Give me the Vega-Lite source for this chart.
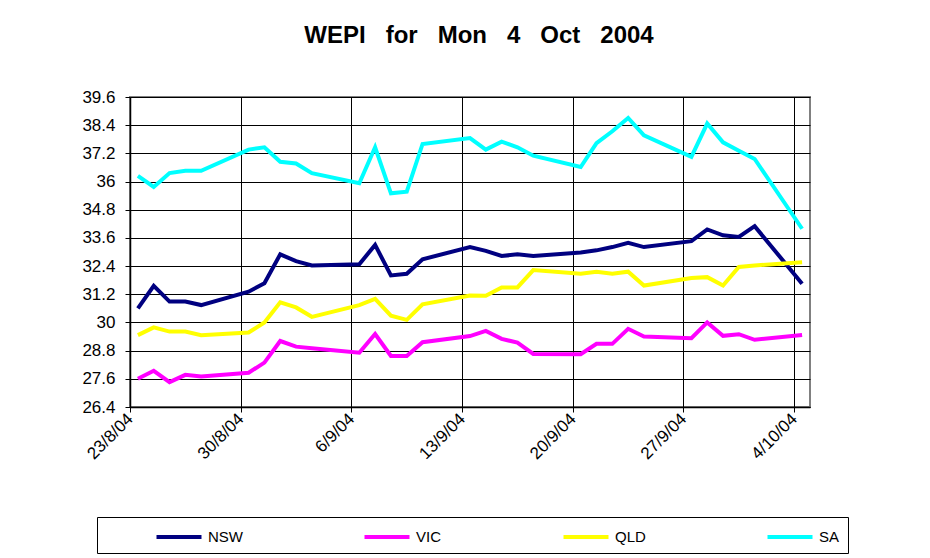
{
  "$schema": "https://vega.github.io/schema/vega-lite/v6.json",
  "autosize": {"type": "none"},
  "padding": {"left": 130, "top": 97, "right": 120, "bottom": 151},
  "width": 680,
  "height": 310,
  "background": "white",
  "title": {
    "text": "WEPI\u00a0\u00a0\u00a0for\u00a0\u00a0\u00a0Mon\u00a0\u00a0\u00a04\u00a0\u00a0\u00a0Oct\u00a0\u00a0\u00a02004",
    "font": "Liberation Sans",
    "fontSize": 24,
    "fontWeight": "bold",
    "color": "black",
    "anchor": "middle",
    "dx": 9,
    "offset": 40
  },
  "config": {
    "font": "Liberation Sans",
    "view": {"stroke": "#808080", "strokeWidth": 2},
    "axis": {
      "gridColor": "black",
      "gridOpacity": 1,
      "gridWidth": 1,
      "domainColor": "black",
      "domainWidth": 1.5,
      "tickColor": "black",
      "tickSize": 5,
      "labelColor": "black",
      "labelFont": "Liberation Sans"
    }
  },
  "data": {
    "values": [
      {"date": "2004-08-23T12:00:00", "state": "NSW", "value": 30.6},
      {"date": "2004-08-24T12:00:00", "state": "NSW", "value": 31.56},
      {"date": "2004-08-25T12:00:00", "state": "NSW", "value": 30.89},
      {"date": "2004-08-26T12:00:00", "state": "NSW", "value": 30.89},
      {"date": "2004-08-27T12:00:00", "state": "NSW", "value": 30.74},
      {"date": "2004-08-30T12:00:00", "state": "NSW", "value": 31.31},
      {"date": "2004-08-31T12:00:00", "state": "NSW", "value": 31.67},
      {"date": "2004-09-01T12:00:00", "state": "NSW", "value": 32.9},
      {"date": "2004-09-02T12:00:00", "state": "NSW", "value": 32.61},
      {"date": "2004-09-03T12:00:00", "state": "NSW", "value": 32.43},
      {"date": "2004-09-06T12:00:00", "state": "NSW", "value": 32.48},
      {"date": "2004-09-07T12:00:00", "state": "NSW", "value": 33.3},
      {"date": "2004-09-08T12:00:00", "state": "NSW", "value": 32.0},
      {"date": "2004-09-09T12:00:00", "state": "NSW", "value": 32.07},
      {"date": "2004-09-10T12:00:00", "state": "NSW", "value": 32.69},
      {"date": "2004-09-13T12:00:00", "state": "NSW", "value": 33.21},
      {"date": "2004-09-14T12:00:00", "state": "NSW", "value": 33.05},
      {"date": "2004-09-15T12:00:00", "state": "NSW", "value": 32.83},
      {"date": "2004-09-16T12:00:00", "state": "NSW", "value": 32.9},
      {"date": "2004-09-17T12:00:00", "state": "NSW", "value": 32.83},
      {"date": "2004-09-20T12:00:00", "state": "NSW", "value": 32.98},
      {"date": "2004-09-21T12:00:00", "state": "NSW", "value": 33.07},
      {"date": "2004-09-22T12:00:00", "state": "NSW", "value": 33.21},
      {"date": "2004-09-23T12:00:00", "state": "NSW", "value": 33.39},
      {"date": "2004-09-24T12:00:00", "state": "NSW", "value": 33.21},
      {"date": "2004-09-27T12:00:00", "state": "NSW", "value": 33.46},
      {"date": "2004-09-28T12:00:00", "state": "NSW", "value": 33.96},
      {"date": "2004-09-29T12:00:00", "state": "NSW", "value": 33.71},
      {"date": "2004-09-30T12:00:00", "state": "NSW", "value": 33.64},
      {"date": "2004-10-01T12:00:00", "state": "NSW", "value": 34.1},
      {"date": "2004-10-04T12:00:00", "state": "NSW", "value": 31.65},
      {"date": "2004-08-23T12:00:00", "state": "VIC", "value": 27.6},
      {"date": "2004-08-24T12:00:00", "state": "VIC", "value": 27.94},
      {"date": "2004-08-25T12:00:00", "state": "VIC", "value": 27.46},
      {"date": "2004-08-26T12:00:00", "state": "VIC", "value": 27.77},
      {"date": "2004-08-27T12:00:00", "state": "VIC", "value": 27.7},
      {"date": "2004-08-30T12:00:00", "state": "VIC", "value": 27.86},
      {"date": "2004-08-31T12:00:00", "state": "VIC", "value": 28.29},
      {"date": "2004-09-01T12:00:00", "state": "VIC", "value": 29.21},
      {"date": "2004-09-02T12:00:00", "state": "VIC", "value": 28.97},
      {"date": "2004-09-03T12:00:00", "state": "VIC", "value": 28.9},
      {"date": "2004-09-06T12:00:00", "state": "VIC", "value": 28.71},
      {"date": "2004-09-07T12:00:00", "state": "VIC", "value": 29.51},
      {"date": "2004-09-08T12:00:00", "state": "VIC", "value": 28.57},
      {"date": "2004-09-09T12:00:00", "state": "VIC", "value": 28.57},
      {"date": "2004-09-10T12:00:00", "state": "VIC", "value": 29.16},
      {"date": "2004-09-13T12:00:00", "state": "VIC", "value": 29.42},
      {"date": "2004-09-14T12:00:00", "state": "VIC", "value": 29.64},
      {"date": "2004-09-15T12:00:00", "state": "VIC", "value": 29.3},
      {"date": "2004-09-16T12:00:00", "state": "VIC", "value": 29.14},
      {"date": "2004-09-17T12:00:00", "state": "VIC", "value": 28.66},
      {"date": "2004-09-20T12:00:00", "state": "VIC", "value": 28.65},
      {"date": "2004-09-21T12:00:00", "state": "VIC", "value": 29.09},
      {"date": "2004-09-22T12:00:00", "state": "VIC", "value": 29.09},
      {"date": "2004-09-23T12:00:00", "state": "VIC", "value": 29.73},
      {"date": "2004-09-24T12:00:00", "state": "VIC", "value": 29.4},
      {"date": "2004-09-27T12:00:00", "state": "VIC", "value": 29.33},
      {"date": "2004-09-28T12:00:00", "state": "VIC", "value": 30.0},
      {"date": "2004-09-29T12:00:00", "state": "VIC", "value": 29.43},
      {"date": "2004-09-30T12:00:00", "state": "VIC", "value": 29.5},
      {"date": "2004-10-01T12:00:00", "state": "VIC", "value": 29.26},
      {"date": "2004-10-04T12:00:00", "state": "VIC", "value": 29.47},
      {"date": "2004-08-23T12:00:00", "state": "QLD", "value": 29.46},
      {"date": "2004-08-24T12:00:00", "state": "QLD", "value": 29.79},
      {"date": "2004-08-25T12:00:00", "state": "QLD", "value": 29.61},
      {"date": "2004-08-26T12:00:00", "state": "QLD", "value": 29.61},
      {"date": "2004-08-27T12:00:00", "state": "QLD", "value": 29.46},
      {"date": "2004-08-30T12:00:00", "state": "QLD", "value": 29.57},
      {"date": "2004-08-31T12:00:00", "state": "QLD", "value": 30.0},
      {"date": "2004-09-01T12:00:00", "state": "QLD", "value": 30.86},
      {"date": "2004-09-02T12:00:00", "state": "QLD", "value": 30.64},
      {"date": "2004-09-03T12:00:00", "state": "QLD", "value": 30.24},
      {"date": "2004-09-06T12:00:00", "state": "QLD", "value": 30.74},
      {"date": "2004-09-07T12:00:00", "state": "QLD", "value": 31.0},
      {"date": "2004-09-08T12:00:00", "state": "QLD", "value": 30.29},
      {"date": "2004-09-09T12:00:00", "state": "QLD", "value": 30.11},
      {"date": "2004-09-10T12:00:00", "state": "QLD", "value": 30.77},
      {"date": "2004-09-13T12:00:00", "state": "QLD", "value": 31.15},
      {"date": "2004-09-14T12:00:00", "state": "QLD", "value": 31.14},
      {"date": "2004-09-15T12:00:00", "state": "QLD", "value": 31.49},
      {"date": "2004-09-16T12:00:00", "state": "QLD", "value": 31.49},
      {"date": "2004-09-17T12:00:00", "state": "QLD", "value": 32.23},
      {"date": "2004-09-20T12:00:00", "state": "QLD", "value": 32.07},
      {"date": "2004-09-21T12:00:00", "state": "QLD", "value": 32.16},
      {"date": "2004-09-22T12:00:00", "state": "QLD", "value": 32.07},
      {"date": "2004-09-23T12:00:00", "state": "QLD", "value": 32.16},
      {"date": "2004-09-24T12:00:00", "state": "QLD", "value": 31.57},
      {"date": "2004-09-27T12:00:00", "state": "QLD", "value": 31.89},
      {"date": "2004-09-28T12:00:00", "state": "QLD", "value": 31.93},
      {"date": "2004-09-29T12:00:00", "state": "QLD", "value": 31.57},
      {"date": "2004-09-30T12:00:00", "state": "QLD", "value": 32.36},
      {"date": "2004-10-01T12:00:00", "state": "QLD", "value": 32.43},
      {"date": "2004-10-04T12:00:00", "state": "QLD", "value": 32.56},
      {"date": "2004-08-23T12:00:00", "state": "SA", "value": 36.24},
      {"date": "2004-08-24T12:00:00", "state": "SA", "value": 35.77},
      {"date": "2004-08-25T12:00:00", "state": "SA", "value": 36.36},
      {"date": "2004-08-26T12:00:00", "state": "SA", "value": 36.46},
      {"date": "2004-08-27T12:00:00", "state": "SA", "value": 36.46},
      {"date": "2004-08-30T12:00:00", "state": "SA", "value": 37.36},
      {"date": "2004-08-31T12:00:00", "state": "SA", "value": 37.46},
      {"date": "2004-09-01T12:00:00", "state": "SA", "value": 36.84},
      {"date": "2004-09-02T12:00:00", "state": "SA", "value": 36.77},
      {"date": "2004-09-03T12:00:00", "state": "SA", "value": 36.36},
      {"date": "2004-09-06T12:00:00", "state": "SA", "value": 35.93},
      {"date": "2004-09-07T12:00:00", "state": "SA", "value": 37.46},
      {"date": "2004-09-08T12:00:00", "state": "SA", "value": 35.5},
      {"date": "2004-09-09T12:00:00", "state": "SA", "value": 35.57},
      {"date": "2004-09-10T12:00:00", "state": "SA", "value": 37.6},
      {"date": "2004-09-13T12:00:00", "state": "SA", "value": 37.85},
      {"date": "2004-09-14T12:00:00", "state": "SA", "value": 37.36},
      {"date": "2004-09-15T12:00:00", "state": "SA", "value": 37.7},
      {"date": "2004-09-16T12:00:00", "state": "SA", "value": 37.46},
      {"date": "2004-09-17T12:00:00", "state": "SA", "value": 37.1},
      {"date": "2004-09-20T12:00:00", "state": "SA", "value": 36.62},
      {"date": "2004-09-21T12:00:00", "state": "SA", "value": 37.63},
      {"date": "2004-09-22T12:00:00", "state": "SA", "value": 38.14},
      {"date": "2004-09-23T12:00:00", "state": "SA", "value": 38.71},
      {"date": "2004-09-24T12:00:00", "state": "SA", "value": 37.97},
      {"date": "2004-09-27T12:00:00", "state": "SA", "value": 37.05},
      {"date": "2004-09-28T12:00:00", "state": "SA", "value": 38.47},
      {"date": "2004-09-29T12:00:00", "state": "SA", "value": 37.67},
      {"date": "2004-09-30T12:00:00", "state": "SA", "value": 37.31},
      {"date": "2004-10-01T12:00:00", "state": "SA", "value": 36.96},
      {"date": "2004-10-04T12:00:00", "state": "SA", "value": 33.99}
    ]
  },
  "mark": {"type": "line", "strokeWidth": 4, "strokeJoin": "miter", "strokeCap": "butt", "clip": false},
  "encoding": {
    "x": {
      "field": "date",
      "type": "temporal",
      "scale": {
        "domain": [
          {"year": 2004, "month": 8, "date": 23},
          {"year": 2004, "month": 10, "date": 5}
        ]
      },
      "axis": {
        "title": null,
        "values": [
          {"year": 2004, "month": 8, "date": 23},
          {"year": 2004, "month": 8, "date": 30},
          {"year": 2004, "month": 9, "date": 6},
          {"year": 2004, "month": 9, "date": 13},
          {"year": 2004, "month": 9, "date": 20},
          {"year": 2004, "month": 9, "date": 27},
          {"year": 2004, "month": 10, "date": 4}
        ],
        "format": "%-d/%-m/%y",
        "labelAngle": -45,
        "labelAlign": "right",
        "labelBaseline": "middle",
        "labelFontSize": 17,
        "labelPadding": 4,
        "labelOverlap": false,
        "labelFlush": false,
        "grid": true
      }
    },
    "y": {
      "field": "value",
      "type": "quantitative",
      "scale": {"domain": [26.4, 39.6], "nice": false, "zero": false},
      "axis": {
        "title": null,
        "values": [26.4, 27.6, 28.8, 30, 31.2, 32.4, 33.6, 34.8, 36, 37.2, 38.4, 39.6],
        "format": ".1~f",
        "labelFontSize": 17,
        "labelPadding": 10,
        "grid": true,
        "labelFlush": false
      }
    },
    "color": {
      "field": "state",
      "type": "nominal",
      "scale": {
        "domain": ["NSW", "VIC", "QLD", "SA"],
        "range": ["#000080", "#FF00FF", "#FFFF00", "#00FFFF"]
      },
      "legend": {
        "orient": "none",
        "legendX": -33,
        "legendY": 420,
        "direction": "horizontal",
        "columns": 4,
        "columnPadding": 113,
        "title": " ",
        "titleOrient": "left",
        "titlePadding": 62,
        "titleFontSize": 10,
        "symbolType": "M-2.25,0H2.25",
        "symbolSize": 400,
        "symbolStrokeWidth": 4,
        "labelFontSize": 15,
        "labelFont": "Liberation Sans",
        "labelColor": "black",
        "labelOffset": 17,
        "labelExpr": "datum.label == 'SA' ? 'SA\u00a0\u00a0\u00a0\u00a0\u00a0\u00a0\u00a0\u00a0\u00a0\u00a0\u00a0\u00a0\u00a0\u00a0\u00a0' : datum.label",
        "strokeColor": "black",
        "padding": 8,
        "fillColor": "white"
      }
    }
  }
}
